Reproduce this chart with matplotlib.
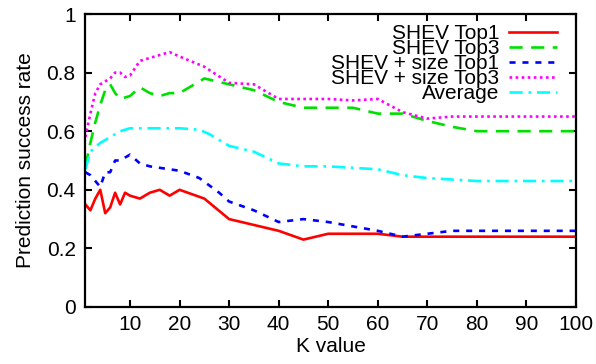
import matplotlib
matplotlib.use("Agg")
import matplotlib.pyplot as plt

plt.rcParams['font.family'] = ['Liberation Sans', 'DejaVu Sans']

# SHEV Top1
x_top1 = [1, 2, 3, 4, 5, 6, 7, 8, 9, 10, 12, 14, 16, 18, 20, 25, 30, 35, 40, 45, 50, 55, 60, 65, 70, 80, 90, 100]
y_top1 = [0.35, 0.33, 0.37, 0.40, 0.32, 0.34, 0.39, 0.35, 0.39, 0.38, 0.37, 0.39, 0.40, 0.38, 0.40, 0.37, 0.30, 0.28, 0.26, 0.23, 0.25, 0.25, 0.25, 0.24, 0.24, 0.24, 0.24, 0.24]

# SHEV Top3
x_top3 = [1, 2, 3, 4, 5, 6, 7, 8, 10, 12, 14, 16, 18, 20, 25, 30, 35, 40, 45, 50, 55, 60, 65, 70, 75, 80, 90, 100]
y_top3 = [0.48, 0.56, 0.63, 0.69, 0.74, 0.76, 0.73, 0.71, 0.72, 0.75, 0.73, 0.72, 0.73, 0.73, 0.78, 0.76, 0.74, 0.70, 0.68, 0.68, 0.68, 0.66, 0.66, 0.635, 0.615, 0.60, 0.60, 0.60]

# SHEV + size Top1
x_size1 = [1, 2, 3, 4, 5, 6, 7, 8, 9, 10, 12, 14, 16, 18, 20, 24, 28, 30, 35, 40, 45, 50, 55, 60, 65, 70, 75, 80, 90, 100]
y_size1 = [0.46, 0.45, 0.43, 0.41, 0.46, 0.46, 0.50, 0.50, 0.51, 0.52, 0.49, 0.48, 0.475, 0.47, 0.465, 0.44, 0.39, 0.36, 0.33, 0.29, 0.30, 0.29, 0.275, 0.26, 0.24, 0.25, 0.26, 0.26, 0.26, 0.26]

# SHEV + size Top3
x_size3 = [1, 2, 3, 4, 5, 6, 7, 8, 9, 10, 12, 14, 16, 18, 20, 25, 30, 35, 40, 45, 50, 55, 60, 65, 70, 75, 80, 90, 100]
y_size3 = [0.58, 0.66, 0.73, 0.76, 0.77, 0.78, 0.80, 0.80, 0.785, 0.79, 0.84, 0.85, 0.86, 0.87, 0.855, 0.82, 0.765, 0.76, 0.71, 0.71, 0.71, 0.705, 0.71, 0.665, 0.643, 0.65, 0.65, 0.65, 0.65]

# Average
x_avg = [1, 2, 4, 6, 8, 10, 15, 20, 24, 26, 30, 35, 40, 45, 50, 55, 60, 65, 70, 80, 90, 100]
y_avg = [0.47, 0.53, 0.56, 0.58, 0.60, 0.61, 0.61, 0.61, 0.605, 0.59, 0.55, 0.53, 0.49, 0.48, 0.48, 0.475, 0.47, 0.45, 0.44, 0.43, 0.43, 0.43]

labels = ["SHEV Top1", "SHEV Top3", "SHEV + size Top1", "SHEV + size Top3", "Average"]
x_ticks = [10, 20, 30, 40, 50, 60, 70, 80, 90, 100]
y_ticks = [0, 0.2, 0.4, 0.6, 0.8, 1]
y_ticklabels = ["0", "0.2", "0.4", "0.6", "0.8", "1"]

fig = plt.figure(figsize=(5.96, 3.64), dpi=100)
ax = fig.add_axes([85.4 / 596, 1 - 307 / 364, (576 - 85.4) / 596, (307 - 14) / 364])

lw = 1.9
ax.plot(x_top1, y_top1, color='#ff0000', lw=lw, linestyle='-', label=labels[0])
ax.plot(x_top3, y_top3, color='#00e000', lw=lw, linestyle=(0, (5, 3.2)), label=labels[1])
ax.plot(x_size1, y_size1, color='#0000ff', lw=lw, linestyle=(0, (2.3, 2.6)), label=labels[2])
ax.plot(x_size3, y_size3, color='#ff00ff', lw=lw, linestyle=(0, (1, 1.3)), label=labels[3])
ax.plot(x_avg, y_avg, color='#00ffff', lw=lw, linestyle=(0, (5, 2.2, 1, 2.2)), label=labels[4])

ax.set_xlim(1, 100)
ax.set_ylim(0, 1)
ax.set_xticks(x_ticks)
ax.set_yticks(y_ticks)
ax.set_yticklabels(y_ticklabels)
ax.tick_params(direction='in', top=True, right=True, length=5, width=1.5, labelsize=15)
ax.tick_params(axis='x', pad=6)
ax.tick_params(axis='y', pad=7)
for s in ax.spines.values():
    s.set_linewidth(1.6)

ax.set_xlabel("K value", fontsize=15, labelpad=2)
ax.set_ylabel("Prediction success rate", fontsize=15, labelpad=8)

leg = ax.legend(loc='upper right', bbox_to_anchor=(0.962, 0.966), markerfirst=False,
                frameon=False, fontsize=15,
                handlelength=2.3, handletextpad=0.5, labelspacing=-0.19,
                borderaxespad=0.0, borderpad=0.0)

fig.savefig("out.png", dpi=100)
